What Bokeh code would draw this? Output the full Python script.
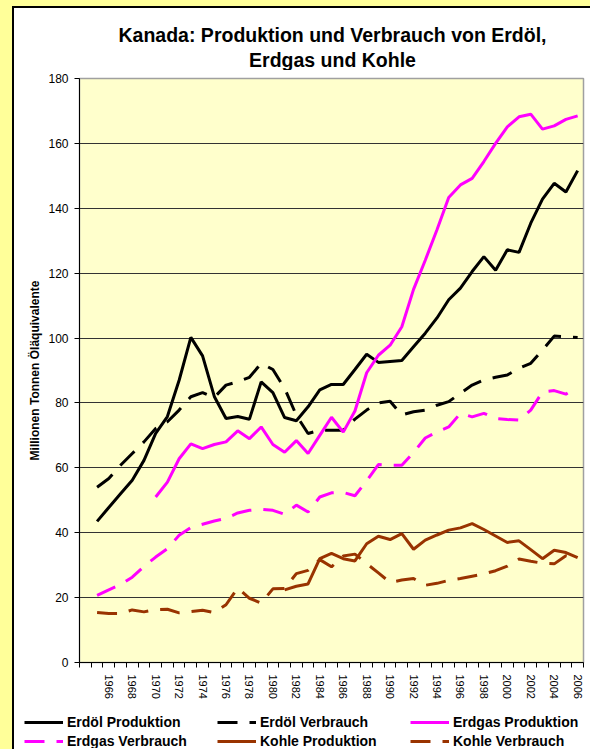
from bokeh.plotting import figure
from bokeh.models import Range1d, FixedTicker, Legend, LegendItem, Label, GlobalInlineStyleSheet
from bokeh.embed import file_html
from bokeh.resources import INLINE

FONT = "Liberation Sans"

# ---- data (Mtoe) ----
years = list(range(1965, 2007))
oil_prod = [43.5, 47.8, 52.0, 56.2, 62.3, 70.6, 75.8, 87.0, 100.2, 94.5,
            82.0, 75.2, 75.8, 75.0, 86.5, 83.2, 75.5, 74.5, 78.8, 84.0,
            85.7, 85.7, 90.3, 95.0, 92.5, 92.8, 93.1, 97.3, 101.5, 106.2,
            111.8, 115.4, 120.5, 125.1, 120.9, 127.2, 126.4, 135.4, 142.8, 147.7,
            145.0, 151.6]
oil_cons = [54.0, 56.7, 60.8, 64.4, 68.0, 72.1, 74.2, 77.8, 81.9, 83.2,
            81.7, 85.5, 86.5, 87.9, 92.2, 90.3, 84.5, 76.2, 70.6, 71.6,
            71.6, 71.6, 75.0, 77.8, 80.0, 80.5, 76.3, 77.3, 77.8, 79.3,
            80.4, 83.0, 85.5, 87.1, 87.9, 88.6, 90.7, 92.2, 96.3, 100.6,
            100.4, 100.2]
gas_prod_years = list(range(1970, 2007))
gas_prod = [51.0, 55.6, 62.8, 67.4, 65.9, 67.2, 68.0, 71.4, 69.0, 72.6,
            67.2, 64.8, 68.4, 64.4, 70.0, 75.6, 71.0, 77.5, 89.3, 94.7,
            97.8, 103.5, 115.0, 124.0, 133.4, 143.3, 147.2, 149.2, 154.4, 160.0,
            165.1, 168.2, 169.0, 164.4, 165.4, 167.4, 168.5]
gas_cons = [20.7, 22.4, 24.0, 26.3, 29.6, 32.5, 35.1, 39.2, 41.6, 42.6,
            43.6, 44.4, 46.1, 46.9, 47.2, 46.9, 45.7, 48.5, 46.4, 51.0,
            52.3, 52.4, 51.4, 56.0, 61.0, 60.8, 60.8, 64.7, 69.2, 71.1,
            72.6, 76.8, 75.7, 76.8, 75.2, 74.9, 74.7, 77.8, 83.4, 83.8,
            82.7, 85.0]
coal_prod_years = list(range(1981, 2007))
coal_prod = [22.4, 23.5, 24.2, 32.0, 33.6, 32.0, 31.3, 36.6, 38.9, 37.9,
             39.7, 34.9, 37.7, 39.3, 40.8, 41.5, 42.8, 41.0, 39.0, 37.0,
             37.5, 34.8, 32.0, 34.6, 33.9, 32.3]
coal_cons = [15.4, 15.1, 15.1, 16.2, 15.6, 16.3, 16.4, 15.3, 15.7, 16.1,
             15.4, 17.8, 23.0, 19.8, 18.3, 22.7, 22.8, 27.4, 28.4, 31.7,
             29.5, 32.8, 33.4, 30.5, 27.6, 24.7, 25.4, 25.9, 23.8, 24.4,
             25.3, 25.9, 26.6, 27.3, 28.3, 29.7, 31.9, 31.2, 30.6, 30.4,
             32.9, 32.4]

label_years = list(range(1966, 2007, 2))
y_ticks = list(range(0, 181, 20))

title_1 = "Kanada: Produktion und Verbrauch von Erdöl,"
title_2 = "Erdgas und Kohle"
y_title = "Millionen Tonnen Öläquivalente"
names = ["Erdöl Produktion", "Erdöl Verbrauch", "Erdgas Produktion",
         "Erdgas Verbrauch", "Kohle Produktion", "Kohle Verbrauch"]

BLACK = "#000000"
MAGENTA = "#FF00FF"
BROWN = "#993300"
DASH = "20 12"
styles = [(BLACK, "solid"), (BLACK, DASH), (MAGENTA, "solid"),
          (MAGENTA, DASH), (BROWN, "solid"), (BROWN, DASH)]

page_css = """
html {
  background:
    linear-gradient(#000, #000) 12px 6px / 2px 3000px no-repeat,
    linear-gradient(#000, #000) 12px 6px / 3000px 2px no-repeat,
    linear-gradient(#fff, #fff) 12px 6px / 3000px 3000px no-repeat,
    #FFFF99;
}
"""

W, H0, H1, H2 = 588, 70, 634, 44


def strip(height):
    f = figure(width=W, height=height, output_backend="svg", toolbar_location=None, title=None,
               x_axis_type=None, y_axis_type=None,
               x_range=Range1d(0, 1), y_range=Range1d(0, 1),
               min_border_left=0, min_border_right=0, min_border_top=0, min_border_bottom=0,
               outline_line_color=None, background_fill_color=None, border_fill_color=None)
    return f


# ---- title strip ----
t = strip(H0)
t.stylesheets = [GlobalInlineStyleSheet(css=page_css)]
for txt, yy in ((title_1, H0 - 34), (title_2, H0 - 59)):
    t.add_layout(Label(x=332, y=yy, x_units="screen", y_units="screen", text=txt,
                       text_align="center", text_baseline="middle", text_font=FONT,
                       text_font_size="19.5px", text_font_style="bold", text_color="black"))

# ---- main chart ----
p = figure(width=W, height=H1, output_backend="svg", toolbar_location=None,
           title=None,
           x_range=Range1d(1963.5, 2006.5), y_range=Range1d(0, 180),
           min_border_left=79, min_border_right=W - 583, min_border_top=78 - H0,
           min_border_bottom=H0 + H1 - 662,
           background_fill_color="#FFFFCC", border_fill_color=None,
           outline_line_color="#A0A0A0", outline_line_width=1.5)

xa = p.xaxis[0]
xa.ticker = FixedTicker(ticks=label_years, minor_ticks=[1963.5 + i for i in range(44)])
xa.major_tick_out = 0
xa.major_tick_in = 0
xa.minor_tick_out = 5
xa.minor_tick_in = 0
xa.minor_tick_line_color = "black"
xa.axis_line_color = "black"
xa.major_label_orientation = "vertical"
xa.major_label_text_font = FONT
xa.major_label_text_font_size = "11px"
xa.major_label_text_color = "black"
xa.major_label_standoff = 7

ya = p.yaxis[0]
ya.ticker = FixedTicker(ticks=y_ticks)
ya.major_tick_out = 5
ya.major_tick_in = 0
ya.minor_tick_out = 0
ya.minor_tick_in = 0
ya.major_tick_line_color = "black"
ya.axis_line_color = "black"
ya.major_label_text_font = FONT
ya.major_label_text_font_size = "12px"
ya.major_label_text_color = "black"
ya.major_label_standoff = 6
ya.axis_label = y_title
ya.axis_label_text_font = FONT
ya.axis_label_text_font_size = "12px"
ya.axis_label_text_font_style = "bold"
ya.axis_label_text_color = "black"
ya.axis_label_standoff = 3

p.xgrid.visible = False
p.ygrid.ticker = FixedTicker(ticks=y_ticks[1:-1])
p.ygrid.grid_line_color = "#333333"
p.ygrid.grid_line_width = 1

p.line(years, oil_prod, line_color=BLACK, line_width=3)
p.line(years, oil_cons, line_color=BLACK, line_width=3, line_dash=DASH)
p.line(gas_prod_years, gas_prod, line_color=MAGENTA, line_width=3)
p.line(years, gas_cons, line_color=MAGENTA, line_width=3, line_dash=DASH)
p.line(coal_prod_years, coal_prod, line_color=BROWN, line_width=3)
p.line(years, coal_cons, line_color=BROWN, line_width=3, line_dash=DASH)

# ---- legend strip ----
q = strip(H2)
key_x = [5, 6]   # outside the visible range: these lines only serve as legend keys
key_y = [5, 6]
keys = [q.line(key_x, key_y, line_color=c, line_width=3, line_dash=d) for c, d in styles]

for row, vy in ((0, 17), (1, -2)):
    items = [LegendItem(label=names[i], renderers=[keys[i]]) for i in range(row * 3, row * 3 + 3)]
    leg = Legend(items=items, location=(24, vy), orientation="horizontal",
                 glyph_width=39, glyph_height=18, label_standoff=4, label_width=130,
                 label_height=18, spacing=20, padding=0, margin=0,
                 border_line_color=None, background_fill_alpha=0,
                 label_text_font=FONT, label_text_font_size="14px",
                 label_text_font_style="bold", label_text_color="black")
    q.add_layout(leg)

open("out.html", "w").write(file_html([t, p, q], INLINE))
